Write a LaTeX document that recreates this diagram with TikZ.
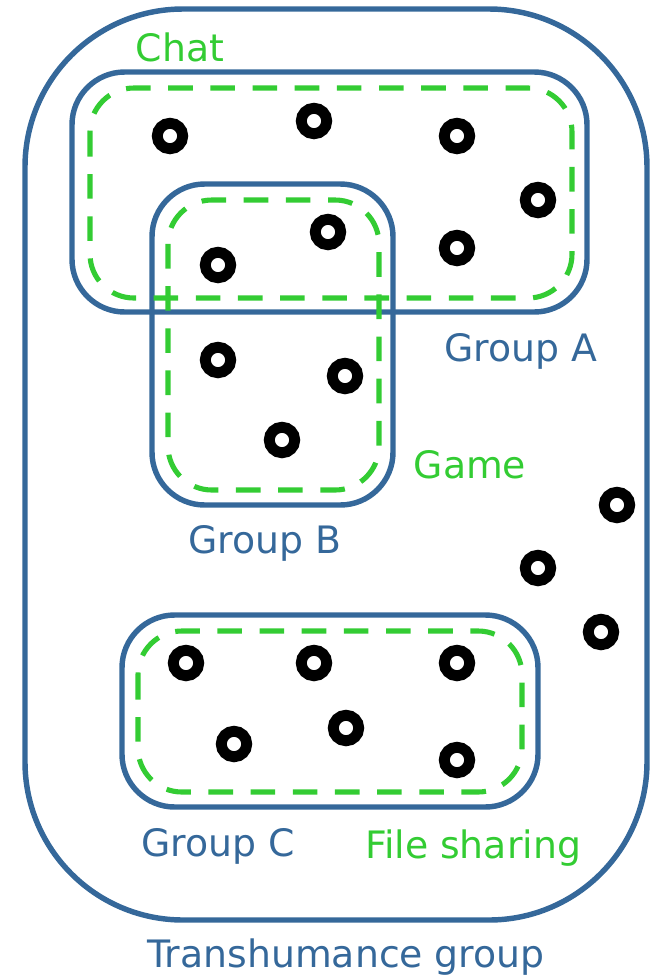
\documentclass[tikz,border=0pt]{standalone}
\usepackage{fontspec}
\setmainfont{DejaVu Sans}
\usepackage{tikz}
\usetikzlibrary{positioning}
\definecolor{groupblue}{HTML}{35689A}
\definecolor{appgreen}{HTML}{33CC33}

\tikzset{
  group/.style={draw=groupblue,line width=3.1pt},
  app/.style={draw=appgreen,line width=2.9pt,dash pattern=on 14pt off 10pt},
  member/.style={circle,draw=black,line width=6.2pt,minimum size=14.5pt,inner sep=0pt},
  grouplabel/.style={text=groupblue,font=\fontsize{21.5}{25}\selectfont},
  applabel/.style={text=appgreen,font=\fontsize{21.5}{25}\selectfont}
}

\begin{document}
\begin{tikzpicture}[x=0.02cm,y=-0.02cm]
    \useasboundingbox (0,0) rectangle (652,975);
    % transhumance group
    \draw[group,rounded corners=90] (25,9) rectangle (647,920);
    % groups
    \draw[group,rounded corners=30] (72,72) rectangle (587,312);
    \draw[group,rounded corners=30] (152,184) rectangle (393,505);
    \draw[group,rounded corners=30] (122,615) rectangle (538,807);
    % applications
    \draw[app,rounded corners=25] (90,88) rectangle (572,298);
    \draw[app,rounded corners=25] (168,200) rectangle (379,490);
    \draw[app,rounded corners=25] (138,631) rectangle (522,792);
    % members
    \foreach \x/\y [count=\i] in {170/136,314/121,457/136,538/200,457/248,328/232,218/265,
      218/360,345/376,282/440,617/505,538/568,601/632,186/663,314/663,457/663,
      234/744,346/728,457/760}
      \node[member] (m\i) at (\x,\y) {};
    % labels
    \node[applabel] (chat) at (180,47) {Chat};
    \node[grouplabel] (groupA) at (521,351) {Group A};
    \node[applabel] (game) at (470,465) {Game};
    \node[grouplabel] (groupB) at (265,543) {Group B};
    \node[grouplabel] (groupC) at (218,846) {Group C};
    \node[applabel] (filesharing) at (473,848) {File sharing};
    \node[grouplabel] (transhumance) at (346,957) {Transhumance group};
  \end{tikzpicture}
\end{document}
